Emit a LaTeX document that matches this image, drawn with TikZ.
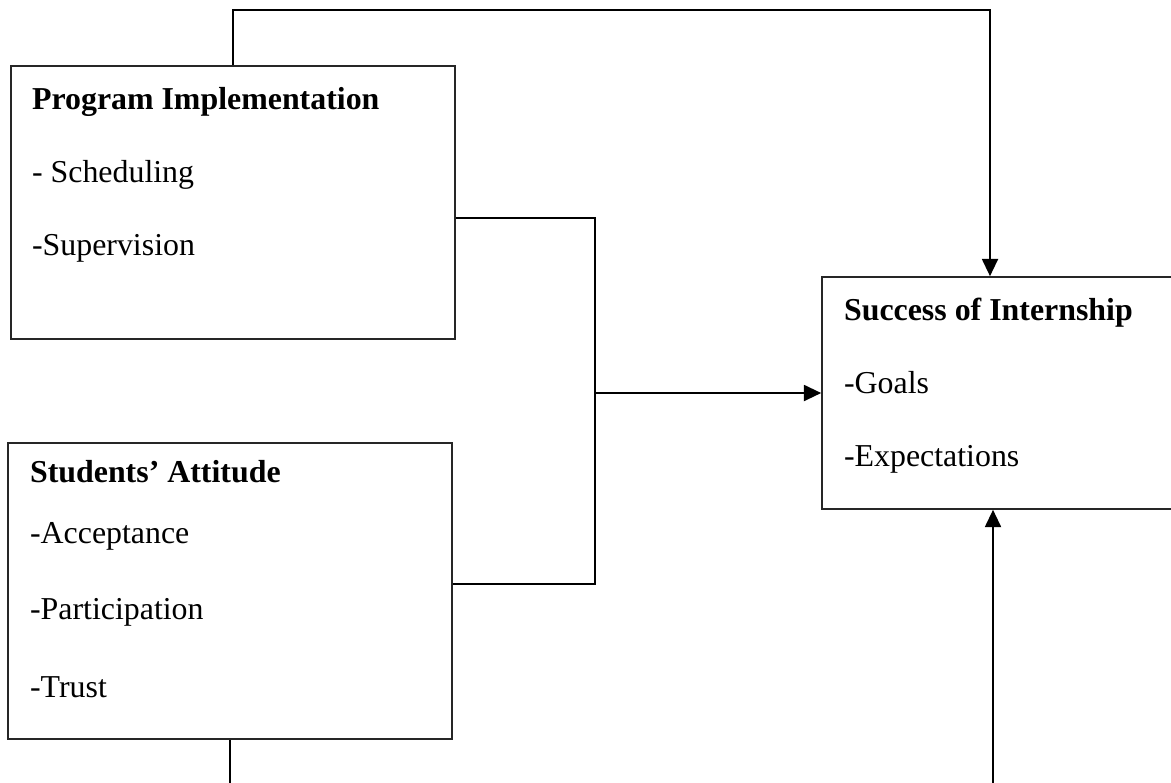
\documentclass[tikz,border=0pt]{standalone}
\usepackage{fontspec}
\setmainfont{Liberation Serif}
\usetikzlibrary{positioning,arrows.meta,fit,calc}

\begin{document}
\begin{tikzpicture}[x=0.01323cm,y=-0.01323cm,>={Triangle[length=6.5pt,width=6pt]},line width=0.8pt,
  box/.style={draw=black!85,line width=0.6pt,inner sep=0pt},
  lbl/.style={anchor=base west,inner sep=0pt,font=\fontsize{12}{14}\selectfont},
  ttl/.style={lbl,font=\fontsize{12}{14}\selectfont\bfseries}]
\useasboundingbox (0,0) rectangle (1171,782); \clip (0,0) rectangle (1171,782);
\node[box,fit={(11,66) (455,339)}] (prog) {}; \node[box,fit={(8,443) (452,739)}] (att) {}; \node[box,fit={(822,277) (1182,509)}] (succ) {};
\node[ttl] (progT) at (31,109) {Program Implementation}; \node[lbl] (prog1) at (31,182) {- Scheduling}; \node[lbl] (prog2) at (31,255) {-Supervision};
\node[ttl] (attT) at (29,482) {Students’ Attitude}; \node[lbl] (att1) at (29,543) {-Acceptance}; \node[lbl] (att2) at (29,619) {-Participation}; \node[lbl] (att3) at (29,697) {-Trust};
\node[ttl] (succT) at (843,320) {Success of Internship}; \node[lbl] (succ1) at (843,393) {-Goals}; \node[lbl] (succ2) at (843,466) {-Expectations};
\coordinate (top) at (990,10); \coordinate (j) at (595,393); \coordinate (bot) at (993,800);
\draw[->] (prog.north) |- (top) -- (top |- succ.north);
\draw ($(prog.east)+(0,15.5)$) -| (j) |- ($(att.east)+(0,-7)$); \draw[->] (j) -- (succ.west);
\draw (att.south) -- (att.south |- bot); \draw[->] (bot) -- (bot |- succ.south);
\end{tikzpicture}
\end{document}
